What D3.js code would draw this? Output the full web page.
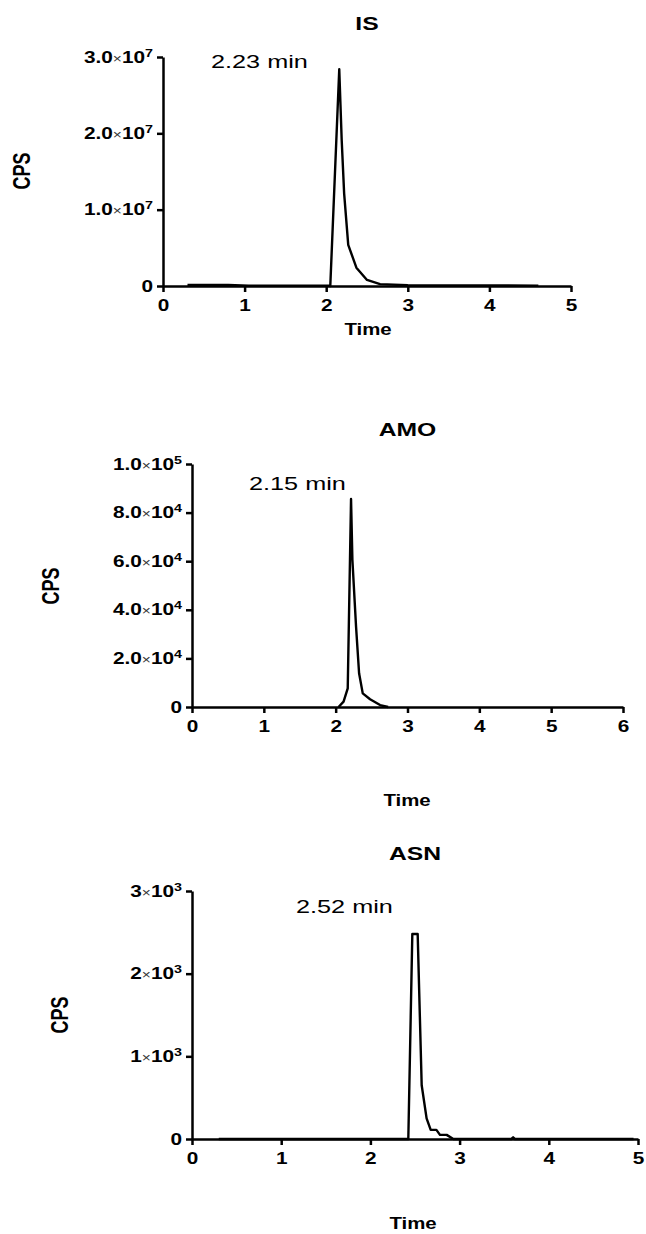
<!DOCTYPE html>
<html lang="en">
<head>
    <meta charset="UTF-8">
    <script src="https://d3js.org/d3.v7.min.js"></script>
    <style>
        body { margin: 0; background: #fff; }
        svg text { font-family: "Liberation Sans", Arial, Helvetica, sans-serif; fill: #000; }
    </style>
</head>
<body>
    <svg id="chart" width="646" height="1234"></svg>
    <script>
        // chromatogram traces (time in min, CPS)
        const isTime = [0.3, 0.8, 1.05, 2.04, 2.05, 2.16, 2.19, 2.22, 2.27, 2.37, 2.50, 2.66, 3.0, 4.6];
        const isCps = [1.5e5, 1.5e5, 3e4, 3e4, 0, 2.84e7, 1.91e7, 1.21e7, 5.4e6, 2.4e6, 7.9e5, 2.5e5, 1e5, 5e4];

        const amoTime = [2.04, 2.11, 2.168, 2.214, 2.233, 2.284, 2.326, 2.377, 2.479, 2.618, 2.73];
        const amoCps = [0, 2200, 7700, 85600, 60500, 33000, 13900, 5600, 3200, 800, 0];

        const asnTime = [0.3, 2.425, 2.47, 2.53, 2.575, 2.63, 2.676, 2.74, 2.78, 2.855, 2.93, 3.58, 3.6, 3.62, 4.95];
        const asnCps = [0, 0, 2480, 2480, 650, 250, 110, 110, 50, 50, 0, 0, 20, 0, 0];

        // axes
        const isXTicks = [0, 1, 2, 3, 4, 5];
        const isYTicks = [0, 1e7, 2e7, 3e7];
        const isYMant = ["0", "1.0", "2.0", "3.0"];
        const isYExp = ["", "7", "7", "7"];

        const amoXTicks = [0, 1, 2, 3, 4, 5, 6];
        const amoYTicks = [0, 2e4, 4e4, 6e4, 8e4, 1e5];
        const amoYMant = ["0", "2.0", "4.0", "6.0", "8.0", "1.0"];
        const amoYExp = ["", "4", "4", "4", "4", "5"];

        const asnXTicks = [0, 1, 2, 3, 4, 5];
        const asnYTicks = [0, 1e3, 2e3, 3e3];
        const asnYMant = ["0", "1", "2", "3"];
        const asnYExp = ["", "3", "3", "3"];

        const panels = [
            { title: "IS", peak: "2.23 min", t: isTime, v: isCps, xt: isXTicks, yt: isYTicks, ym: isYMant, ye: isYExp,
              xd: [0, 5], yd: [0, 3e7], x0: 163, x1: 571, y0: 286, y1: 57,
              titleY: 30, peakX: 211, peakY: 68, cpsX: 22, cpsY: 171, timeX: 368, timeY: 335 },
            { title: "AMO", peak: "2.15 min", t: amoTime, v: amoCps, xt: amoXTicks, yt: amoYTicks, ym: amoYMant, ye: amoYExp,
              xd: [0, 6], yd: [0, 1e5], x0: 192, x1: 623, y0: 707, y1: 464,
              titleY: 436, peakX: 249, peakY: 490, cpsX: 51, cpsY: 586, timeX: 407, timeY: 806 },
            { title: "ASN", peak: "2.52 min", t: asnTime, v: asnCps, xt: asnXTicks, yt: asnYTicks, ym: asnYMant, ye: asnYExp,
              xd: [0, 5], yd: [0, 3000], x0: 192, x1: 638, y0: 1139, y1: 891,
              titleY: 860, peakX: 296, peakY: 913, cpsX: 60, cpsY: 1015, timeX: 413, timeY: 1229 }
        ];

        const SX = 1.3; // the picture is stretched sideways
        const svg = d3.select("#chart");

        panels.forEach(p => {
            const x = d3.scaleLinear().domain(p.xd).range([p.x0, p.x1]);
            const y = d3.scaleLinear().domain(p.yd).range([p.y0, p.y1]);
            const g = svg.append("g");

            // y axis
            const ya = g.append("g")
                .attr("transform", "translate(" + p.x0 + ",0)")
                .call(d3.axisLeft(y).tickValues(p.yt).tickSize(6).tickPadding(4).tickSizeOuter(0).tickFormat(""));
            ya.selectAll("text").each(function (d, i) {
                const t = d3.select(this)
                    .attr("x", 0)
                    .attr("transform", "translate(-10,0) scale(" + SX + ",1)")
                    .style("font-size", "16px").style("font-weight", "bold");
                t.append("tspan").text(p.ym[i]);
                if (p.ye[i]) {
                    t.append("tspan").text("×").style("font-weight", "normal").style("font-size", "12px").attr("fill", "#333");
                    t.append("tspan").text("10");
                    t.append("tspan").text(p.ye[i]).style("font-size", "11px").attr("dy", "-6");
                }
            });

            // x axis
            const xa = g.append("g")
                .attr("transform", "translate(0," + p.y0 + ")")
                .call(d3.axisBottom(x).tickValues(p.xt).tickSize(6).tickPadding(8).tickSizeOuter(0).tickFormat(d3.format("d")));
            xa.selectAll("text")
                .attr("transform", "scale(" + SX + ",1)")
                .style("font-size", "16px").style("font-weight", "bold");

            g.selectAll(".domain, .tick line").attr("stroke", "#000").attr("stroke-width", 2.5);

            // trace
            const line = d3.line().x((d, i) => x(p.t[i])).y(d => y(d));
            g.append("path")
                .datum(p.v)
                .attr("d", line)
                .attr("fill", "none")
                .attr("stroke", "#000")
                .attr("stroke-width", 2.4)
                .attr("stroke-linejoin", "round");

            // texts
            g.append("text")
                .attr("transform", "translate(" + (p.x0 + p.x1) / 2 + "," + p.titleY + ") scale(" + SX + ",1)")
                .attr("text-anchor", "middle")
                .style("font-size", "19px").style("font-weight", "bold")
                .text(p.title);
            g.append("text")
                .attr("transform", "translate(" + p.peakX + "," + p.peakY + ") scale(1.33,1)")
                .style("font-size", "19px")
                .text(p.peak);
            g.append("text")
                .attr("transform", "translate(" + (p.cpsX + 8) + "," + p.cpsY + ") scale(" + SX + ",1) rotate(-90)")
                .attr("text-anchor", "middle")
                .style("font-size", "18px").style("font-weight", "bold")
                .text("CPS");
            g.append("text")
                .attr("transform", "translate(" + p.timeX + "," + p.timeY + ") scale(1.2,1)")
                .attr("text-anchor", "middle")
                .style("font-size", "17px").style("font-weight", "bold")
                .text("Time");
        });
    </script>
</body>
</html>
